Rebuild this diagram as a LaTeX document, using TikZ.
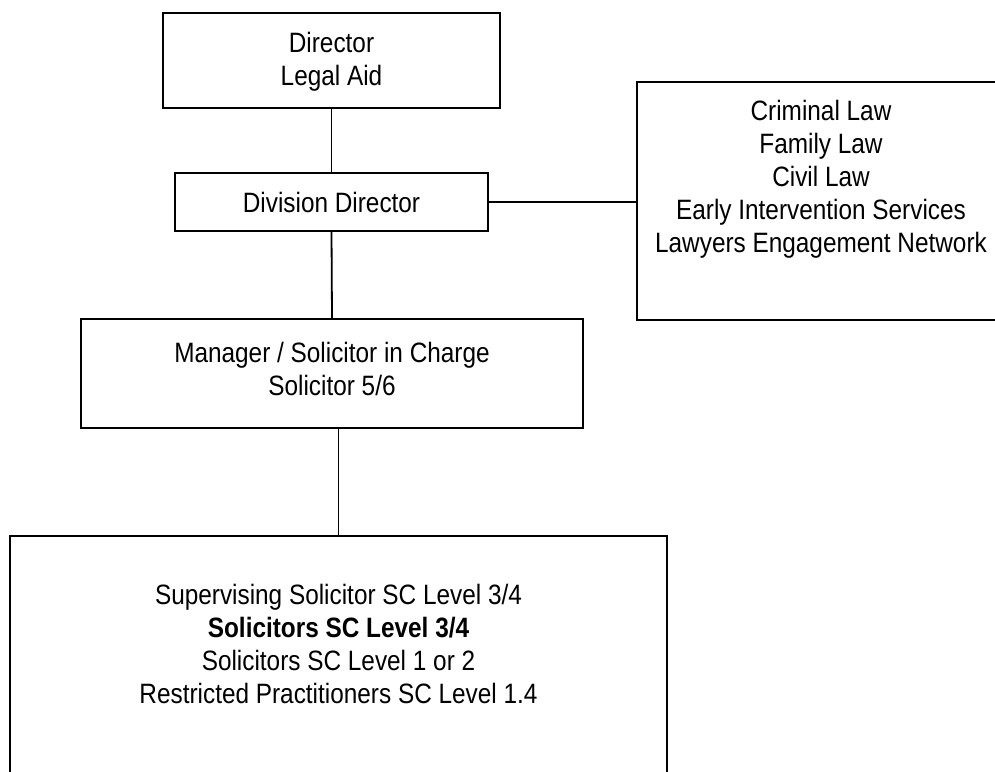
\documentclass[tikz,border=0pt]{standalone}
\usepackage{fontspec}
\setmainfont{Liberation Sans}[FakeStretch=0.87]
\begin{document}
\begin{tikzpicture}[x=1pt,y=-1pt,
  box/.style={draw,line width=1.8pt,inner sep=0pt},
  conn/.style={line width=1.8pt},
  txt/.style={align=center,font=\fontsize{28}{33}\selectfont,inner sep=0pt}]
\clip (0,0) rectangle (995,771);
\node[box,minimum width=337pt,minimum height=95pt] (b1) at (331.5,60.5) {};
\node[box,minimum width=313pt,minimum height=58pt] (b2) at (331.5,202) {};
\node[box,minimum width=368pt,minimum height=238pt] (b3) at (821,201) {};
\node[box,minimum width=502pt,minimum height=109pt] (b4) at (332,373.5) {};
\node[box,minimum width=657pt,minimum height=284pt] (b5) at (338.5,678) {};
\node[txt] (t1) at (331.5,62) {Director\\Legal Aid};
\node[txt] (t2) at (331.5,202) {Division Director};
\node[txt] (t3) at (821,179.5) {Criminal Law\\Family Law\\Civil Law\\Early Intervention Services\\Lawyers Engagement Network};
\node[txt] (t4) at (332,368.5) {Manager / Solicitor in Charge\\Solicitor 5/6};
\node[txt] (t5) at (338.5,644) {Supervising Solicitor SC Level 3/4\\\textbf{Solicitors SC Level 3/4}\\Solicitors SC Level 1 or 2\\Restricted Practitioners SC Level 1.4};
\draw[conn] (b1.south) -- (b2.north);
\draw[conn] (b2.south) -- (b4.north);
\draw[conn] (b2.east) -- (b2.east -| b3.west);
\draw[conn] (b5.north) -- (b5.north |- b4.south);
\end{tikzpicture}
\end{document}
